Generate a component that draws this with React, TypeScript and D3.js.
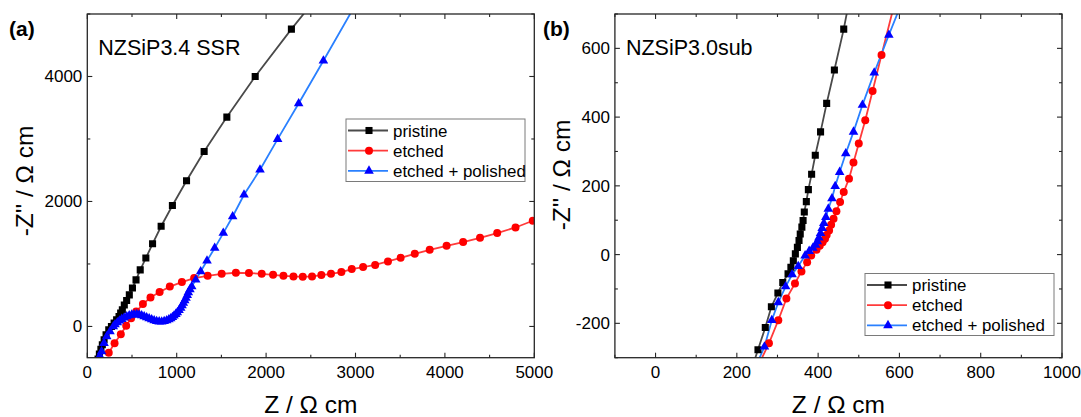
import React from "react";
import * as d3 from "d3";

// ---------- data ----------
// Panel (a): NZSiP3.4 SSR  [Z', -Z'']
const pristineA: [number, number][] = [
  [120, -520], [135, -440], [152, -365], [168, -293], [188, -213], [210, -133], [240, -53], [270, 0],
  [300, 53], [328, 107], [355, 160], [373, 213], [392, 267], [414, 342], [440, 416], [470, 505],
  [505, 615], [545, 745], [592, 905], [655, 1094], [730, 1323], [826, 1603], [952, 1936], [1110, 2331],
  [1307, 2800], [1561, 3350], [1878, 4000], [2283, 4758], [2700, 5500],
];
const etchedA: [number, number][] = [
  [240, -420], [305, -270], [375, -125], [435, 10], [490, 130], [547, 238], [622, 358], [707, 464],
  [809, 552], [923, 638], [1058, 710], [1195, 774], [1346, 811], [1503, 843], [1662, 859], [1808, 854],
  [1951, 843], [2078, 827], [2194, 811], [2306, 800], [2410, 795], [2514, 800], [2618, 822], [2726, 843],
  [2842, 870], [2958, 918], [3085, 950], [3220, 985], [3363, 1040], [3505, 1099], [3663, 1163], [3830, 1227],
  [4019, 1291], [4204, 1350], [4393, 1419], [4585, 1494], [4790, 1584], [4983, 1691], [5200, 1800],
];
const polishedA: [number, number][] = [
  [140, -470], [160, -400], [187, -267], [217, -160], [254, -80], [291, 0], [310, 30], [336, 64],
  [360, 92], [385, 117], [412, 140], [441, 160], [469, 175], [497, 187], [525, 192], [553, 193],
  [580, 187], [608, 175], [636, 160], [664, 144], [692, 127], [720, 110], [748, 95], [776, 84],
  [804, 77], [832, 75], [860, 82], [888, 96], [912, 110], [933, 128], [952, 148], [970, 171],
  [990, 197], [1007, 224], [1026, 258], [1045, 294], [1060, 334], [1074, 374], [1090, 414], [1104, 454],
  [1118, 500], [1130, 544], [1148, 590], [1168, 640], [1213, 747], [1268, 880], [1339, 1051], [1425, 1254],
  [1521, 1494], [1626, 1760], [1753, 2107], [1932, 2507], [2129, 2997], [2364, 3568], [2641, 4251], [3000, 5150],
];

// Panel (b): NZSiP3.0sub
const pristineB: [number, number][] = [
  [240, -320], [252, -277], [270, -212], [285, -152], [301, -112], [313, -81], [326, -56], [333, -37],
  [339, -18], [344, 2], [349, 21], [353, 41], [356, 60], [360, 80], [363, 99], [366, 124],
  [371, 154], [376, 189], [384, 234], [393, 289], [406, 357], [421, 440], [440, 537], [463, 656], [480, 760],
];
const etchedB: [number, number][] = [
  [250, -330], [279, -258], [302, -191], [322, -128], [343, -84], [359, -49], [373, -22], [383, -3],
  [396, 14], [404, 26], [411, 36], [417, 46], [421, 57], [427, 70], [432, 87], [438, 104],
  [445, 126], [454, 153], [463, 182], [476, 221], [487, 268], [500, 323], [516, 391], [534, 476],
  [556, 581], [590, 740],
];
const polishedB: [number, number][] = [
  [245, -330], [268, -268], [286, -191], [302, -139], [320, -93], [336, -58], [351, -34], [368, -3],
  [378, 10], [387, 19], [394, 28], [398, 38], [402, 49], [406, 62], [410, 77], [414, 91],
  [419, 109], [425, 133], [434, 163], [442, 199], [453, 240], [468, 294], [487, 357], [509, 435],
  [538, 529], [574, 639], [615, 760],
];

const seriesNames = ["pristine", "etched", "etched + polished"];
const xTicksA = [0, 1000, 2000, 3000, 4000, 5000];
const yTicksA = [0, 2000, 4000];
const xTicksB = [0, 200, 400, 600, 800, 1000];
const yTicksB = [-200, 0, 200, 400, 600];

// ---------- styling ----------
const FONT = "'Liberation Sans', Arial, Helvetica, sans-serif";
const lineColors = ["#4a4a4a", "#ff3b3b", "#2a80ff"];
const markColors = ["#000000", "#ff0000", "#0000ff"];
const symbols = [d3.symbolSquare, d3.symbolCircle, d3.symbolTriangle];
const symSizes = [50, 50, 40];

type PanelProps = {
  id: string;
  left: number; right: number; top: number; bottom: number;
  xDomain: [number, number]; yDomain: [number, number];
  xMajor: number[]; xMinorStep: number;
  yMajor: number[]; yMinorStep: number;
  data: [number, number][][];
  tag: string; tagX: number;
  title: string;
  legend: { x: number; y: number; w: number; h: number };
  yTitleCenter: number; yTitleX: number;
};

function Panel(p: PanelProps) {
  const x = d3.scaleLinear().domain(p.xDomain).range([p.left, p.right]);
  const y = d3.scaleLinear().domain(p.yDomain).range([p.bottom, p.top]);
  const line = d3.line<[number, number]>().x((d) => x(d[0])).y((d) => y(d[1]));
  const xMinor = d3.range(Math.ceil(p.xDomain[0] / p.xMinorStep) * p.xMinorStep, p.xDomain[1] + 1e-9, p.xMinorStep)
    .filter((v) => !p.xMajor.includes(v));
  const yMinor = d3.range(Math.ceil(p.yDomain[0] / p.yMinorStep) * p.yMinorStep, p.yDomain[1] + 1e-9, p.yMinorStep)
    .filter((v) => !p.yMajor.includes(v));
  const axisColor = "#262626";
  const maj = 5, min = 3;
  const clipId = `clip-${p.id}`;
  return (
    <g>
      <defs>
        <clipPath id={clipId}>
          <rect x={p.left} y={p.top} width={p.right - p.left} height={p.bottom - p.top} />
        </clipPath>
      </defs>
      <g clipPath={`url(#${clipId})`}>
        {p.data.map((s, i) => (
          <path key={"l" + i} d={line(s) || ""} fill="none" stroke={lineColors[i]} strokeWidth={1.8} />
        ))}
        {p.data.map((s, i) =>
          s.map((d, j) => (
            <path key={`m${i}-${j}`} transform={`translate(${x(d[0])},${y(d[1])})`}
              d={d3.symbol().type(symbols[i]).size(symSizes[i])() || ""} fill={markColors[i]} />
          ))
        )}
      </g>
      {/* frame */}
      <rect x={p.left} y={p.top} width={p.right - p.left} height={p.bottom - p.top} fill="none" stroke={axisColor} strokeWidth={1.3} />
      {/* x ticks */}
      {p.xMajor.map((v) => (
        <g key={"xM" + v}>
          <line x1={x(v)} x2={x(v)} y1={p.bottom} y2={p.bottom - maj} stroke={axisColor} strokeWidth={1.1} />
          <line x1={x(v)} x2={x(v)} y1={p.top} y2={p.top + maj} stroke={axisColor} strokeWidth={1.1} />
          <text x={x(v)} y={p.bottom + 20} textAnchor="middle" fontFamily={FONT} fontSize={17} fill="#000">{v}</text>
        </g>
      ))}
      {xMinor.map((v) => (
        <g key={"xm" + v}>
          <line x1={x(v)} x2={x(v)} y1={p.bottom} y2={p.bottom - min} stroke={axisColor} strokeWidth={1.1} />
          <line x1={x(v)} x2={x(v)} y1={p.top} y2={p.top + min} stroke={axisColor} strokeWidth={1.1} />
        </g>
      ))}
      {p.yMajor.map((v) => (
        <g key={"yM" + v}>
          <line x1={p.left} x2={p.left + maj} y1={y(v)} y2={y(v)} stroke={axisColor} strokeWidth={1.1} />
          <line x1={p.right} x2={p.right - maj} y1={y(v)} y2={y(v)} stroke={axisColor} strokeWidth={1.1} />
          <text x={p.left - 5} y={y(v) + 6} textAnchor="end" fontFamily={FONT} fontSize={17} fill="#000">{v}</text>
        </g>
      ))}
      {yMinor.map((v) => (
        <g key={"ym" + v}>
          <line x1={p.left} x2={p.left + min} y1={y(v)} y2={y(v)} stroke={axisColor} strokeWidth={1.1} />
          <line x1={p.right} x2={p.right - min} y1={y(v)} y2={y(v)} stroke={axisColor} strokeWidth={1.1} />
        </g>
      ))}
      {/* axis titles */}
      <text x={(p.left + p.right) / 2} y={413} textAnchor="middle" fontFamily={FONT} fontSize={24.5} fill="#000">Z / Ω cm</text>
      <text transform={`translate(${p.yTitleX},${p.yTitleCenter}) rotate(-90)`} textAnchor="middle" fontFamily={FONT} fontSize={24.5} fill="#000">-Z'' / Ω cm</text>
      {/* panel tag and title */}
      <text x={p.tagX} y={36} fontFamily={FONT} fontSize={21} fontWeight="bold" fill="#000">{p.tag}</text>
      <text x={p.left + 11} y={55} fontFamily={FONT} fontSize={21.5} fill="#000">{p.title}</text>
      {/* legend */}
      <rect x={p.legend.x} y={p.legend.y} width={p.legend.w} height={p.legend.h} fill="#fff" stroke="#7a7a7a" strokeWidth={1} />
      {seriesNames.map((name, i) => {
        const ry = p.legend.y + 11.5 + i * 20.2;
        const lx = p.legend.x + 2;
        return (
          <g key={"lg" + i}>
            <line x1={lx} x2={lx + 40} y1={ry} y2={ry} stroke={lineColors[i]} strokeWidth={1.8} />
            <path transform={`translate(${lx + 21},${ry})`} d={d3.symbol().type(symbols[i]).size(symSizes[i])() || ""} fill={markColors[i]} />
            <text x={lx + 45} y={ry + 6} fontFamily={FONT} fontSize={16.9} fill="#000">{name}</text>
          </g>
        );
      })}
    </g>
  );
}

export default function App() {
  return (
    <svg width={1081} height={417} style={{ position: "absolute", left: 0, top: 0, background: "#fff" }}>
      <rect x={0} y={0} width={1081} height={417} fill="#fff" />
      <Panel id="a" left={87.3} right={534.3} top={14} bottom={357.7}
        xDomain={[0, 5000]} yDomain={[-500, 5000]}
        xMajor={xTicksA} xMinorStep={500} yMajor={yTicksA} yMinorStep={1000}
        data={[pristineA, etchedA, polishedA]}
        tag="(a)" tagX={9} title="NZSiP3.4 SSR"
        legend={{ x: 346, y: 119, w: 179, h: 62.5 }}
        yTitleCenter={181} yTitleX={32.5} />
      <Panel id="b" left={614.9} right={1062} top={14} bottom={357.7}
        xDomain={[-100, 1000]} yDomain={[-300, 700]}
        xMajor={xTicksB} xMinorStep={100} yMajor={yTicksB} yMinorStep={100}
        data={[pristineB, etchedB, polishedB]}
        tag="(b)" tagX={543} title="NZSiP3.0sub"
        legend={{ x: 865, y: 273.5, w: 189, h: 62 }}
        yTitleCenter={175} yTitleX={570} />
    </svg>
  );
}
